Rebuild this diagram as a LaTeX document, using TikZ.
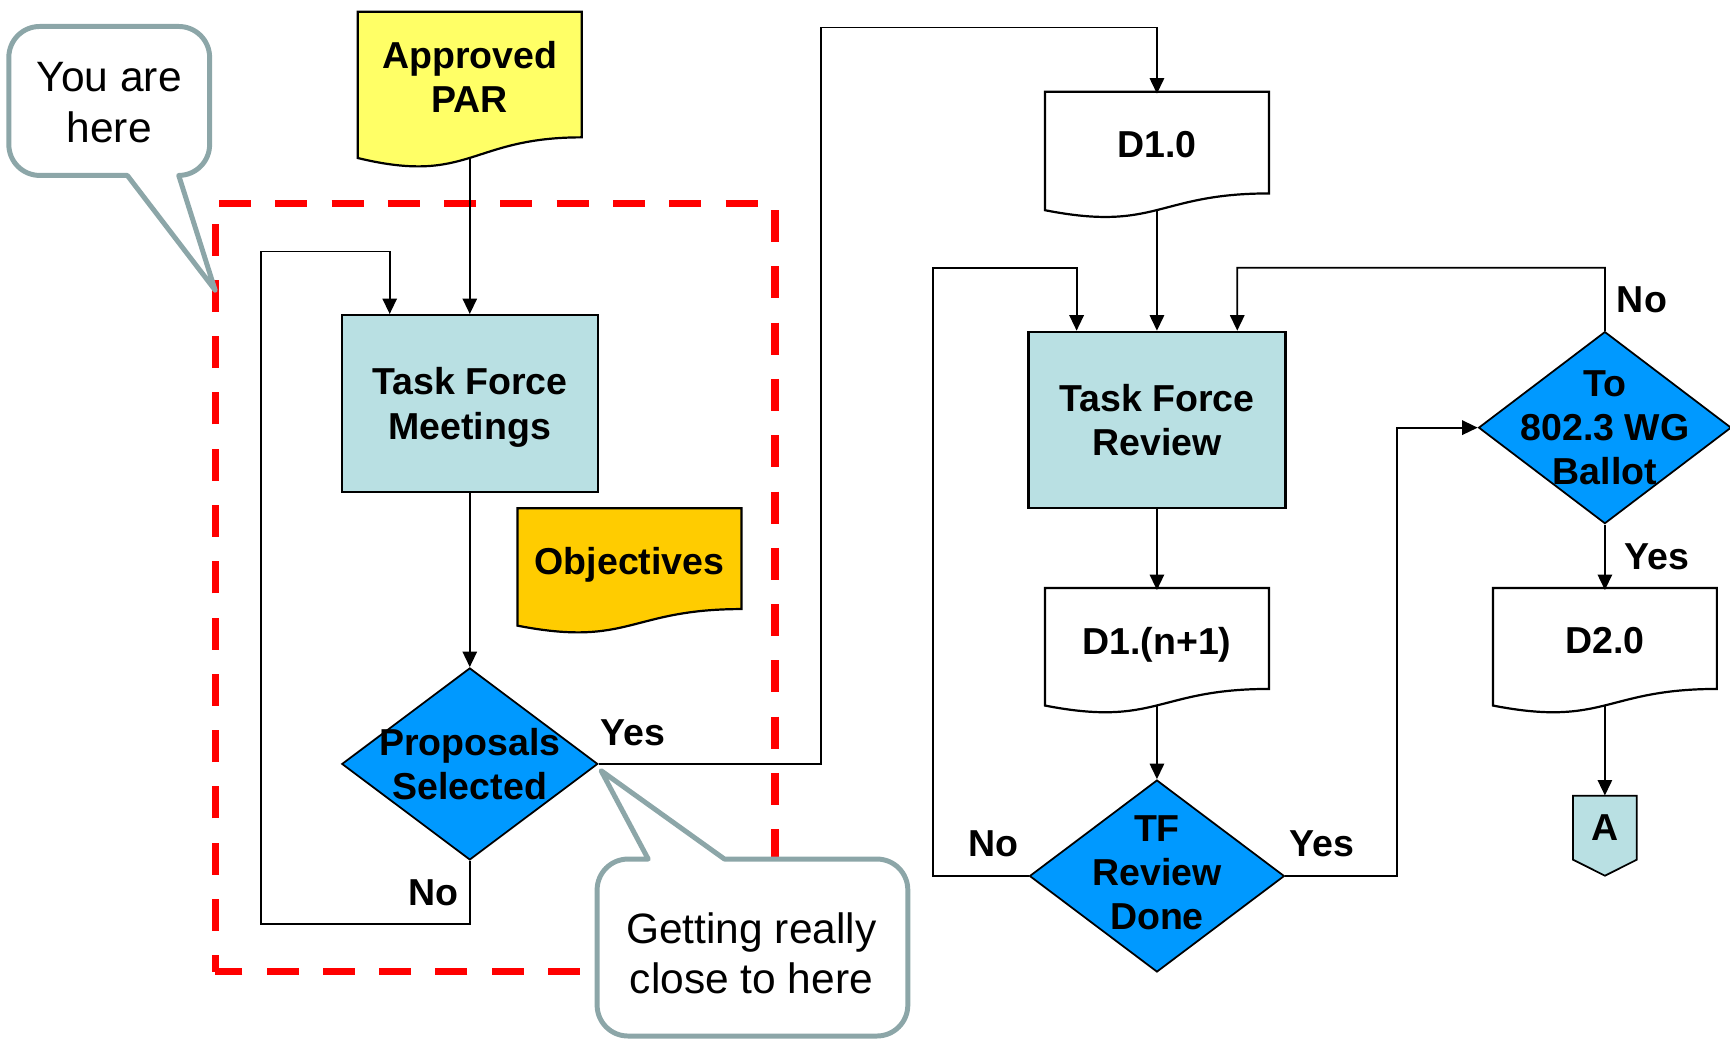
\documentclass[tikz,border=0pt]{standalone}
\usepackage{fontspec}
\setmainfont{Liberation Sans}
\usetikzlibrary{arrows.meta,shapes.geometric}

\definecolor{parYellow}{RGB}{255,255,102}
\definecolor{objGold}{RGB}{255,204,0}
\definecolor{tfBlue}{RGB}{185,224,227}
\definecolor{askBlue}{RGB}{0,153,255}
\definecolor{calloutGray}{RGB}{140,166,168}

\newcommand{\flowfont}{\fontsize{34}{40}\selectfont\bfseries}
\newcommand{\calloutfont}{\fontsize{38.5}{46}\selectfont}

\tikzset{
  flow/.style={-{Triangle[length=14pt,width=13pt]}, line width=1.6pt},
  taskbox/.style={draw, line width=2pt, fill=tfBlue, minimum width=232pt,
    minimum height=160pt, align=center, text depth=0pt, font=\flowfont},
  decision/.style={diamond, draw, line width=1.6pt, fill=askBlue, inner sep=0pt,
    minimum width=231pt, minimum height=174pt},
  flowtext/.style={align=center, inner sep=0pt, text depth=0pt, font=\flowfont},
  docline/.style={line width=2pt, line join=miter},
  answer/.style={inner sep=0pt, font=\flowfont},
  scopebox/.style={draw=red, line width=6.5pt, dash pattern=on 29pt off 22pt,
    dash phase=14pt, line join=miter},
  callout/.style={draw=calloutGray, fill=white, line width=4.5pt, line join=round},
  callouttext/.style={align=center, inner sep=0pt, font=\calloutfont}
}

\begin{document}
\begin{tikzpicture}[x=1pt,y=-1pt]
\useasboundingbox (0,0) rectangle (1568,941);

% the part of the process we are in now
\draw[scopebox] (195,880.7) -- (195,184.3) -- (702.4,184.3) -- (702.4,880.7) -- cycle;

% documents with a wavy bottom edge
\foreach \name/\x/\y/\h/\col/\txt in {par/324.3/10.6/142/parYellow/{Approved\\PAR},
  obj/469.1/460.6/114/objGold/Objectives, d10/947.1/83.1/115/white/D1.0,
  d1n/947.1/533/114/white/D1.(n+1), d20/1353.1/533/114/white/D2.0} {
\filldraw[docline, fill=\col] (\x,\y) -- ({\x+203},\y) -- ({\x+203},{\y+0.802*\h})
  .. controls ({\x+101.5},{\y+0.802*\h}) and ({\x+101.5},{\y+1.1075*\h}) .. (\x,{\y+0.934*\h}) -- cycle;
\node[flowtext, minimum width=203pt, minimum height={0.802*\h*1pt}] (\name) at ({\x+101.5},{\y+0.401*\h+2}) {\txt};
\coordinate (\name-out) at ({\x+101.5},{\y+0.933*\h});
}

\node[taskbox] (tfm) at (425.8,365.6) {Task Force\\Meetings};
\node[taskbox, minimum width=233pt] (tfr) at (1048.6,380.7) {Task Force\\Review};

\node[decision, minimum width=232pt] (sel) at (425.8,692.4) {};
\node[flowtext] (sel-label) at (sel) {Proposals\\Selected};
\node[decision] (tfd) at (1048.6,794) {};
\node[flowtext, yshift=3pt] (tfd-label) at (tfd) {TF\\Review\\Done};
\node[decision, minimum width=229pt] (ballot) at (1454.6,387.6) {};
\node[flowtext] (ballot-label) at (ballot) {To\\802.3 WG\\Ballot};

% off-page connector
\filldraw[fill=tfBlue, line width=1.6pt] (1425.7,721.2) -- (1483.5,721.2) -- (1483.5,779.2)
  -- (1454.6,793.7) -- (1425.7,779.2) -- cycle;
\node[flowtext, minimum width=58pt, minimum height=58pt] (conA) at (1454.6,750.2) {A};

\draw[flow] (par-out) -- (tfm.north);
\draw[flow] (tfm.south) -- (sel.north);
\draw[flow] (sel.south) |- (236.8,837.5) -- (236.8,228) -| ([xshift=-72.6pt]tfm.north);
\draw[flow] (sel.east) -| (744.2,25) -| (d10.north);
\draw[flow] (d10-out) -- (tfr.north);
\draw[flow] (tfr.south) -- (d1n.north);
\draw[flow] (d1n-out) -- (tfd.north);
\draw[flow] (tfd.west) -| (845.7,242.6) -| ([xshift=-72.8pt]tfr.north);
\draw[flow] (tfd.east) -| (1266.5,387.6) -- (ballot.west);
\draw[flow] (ballot.north) |- (1121.4,242.6) -- ([xshift=72.8pt]tfr.north);
\draw[flow] (ballot.south) -- (d20.north);
\draw[flow] (d20-out) -- (conA.north);

\node[answer] (sel-yes) at (574,664) {Yes};
\node[answer] (sel-no) at (393,809) {No};
\node[answer] (tfd-no) at (900.1,765) {No};
\node[answer] (tfd-yes) at (1197.9,765) {Yes};
\node[answer] (ballot-no) at (1488.2,272) {No};
\node[answer] (ballot-yes) at (1501.5,504.5) {Yes};

% speech bubbles
\draw[callout] (36,24) -- (162,24) .. controls (177.5,24) and (190,36.5) .. (190,52)
  -- (190,131) .. controls (190,146.5) and (177.5,159) .. (162,159) -- (195,263)
  -- (115.4,159) -- (36,159) .. controls (20.5,159) and (8,146.5) .. (8,131)
  -- (8,52) .. controls (8,36.5) and (20.5,24) .. (36,24) -- cycle;
\node[callouttext] (here) at (99,93) {You are\\here};

\draw[callout] (569.2,778.6) -- (587.5,778.6) -- (544.8,698.5) -- (656.6,778.6) -- (794.8,778.6)
  .. controls (810.3,778.6) and (822.8,791.1) .. (822.8,806.6) -- (822.8,911)
  .. controls (822.8,926.5) and (810.3,939) .. (794.8,939) -- (569.2,939)
  .. controls (553.7,939) and (541.2,926.5) .. (541.2,911) -- (541.2,806.6)
  .. controls (541.2,791.1) and (553.7,778.6) .. (569.2,778.6) -- cycle;
\node[callouttext] (close) at (681,864) {Getting really\\close to here};

\end{tikzpicture}
\end{document}
